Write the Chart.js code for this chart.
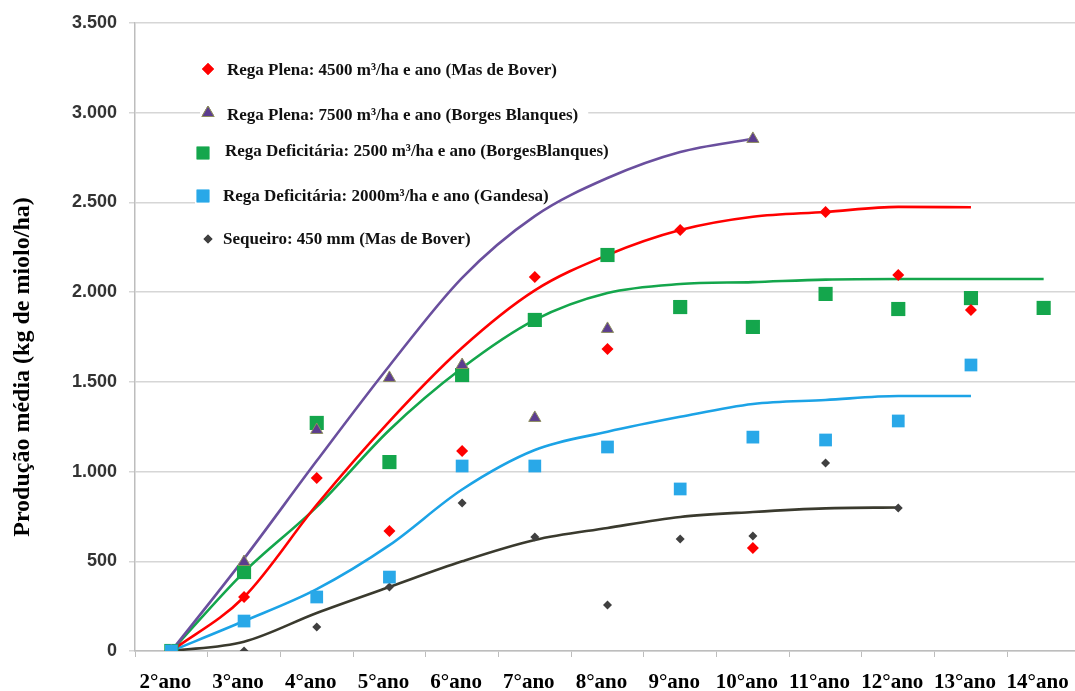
<!DOCTYPE html>
<html>
<head>
<meta charset="utf-8">
<script src="https://cdn.jsdelivr.net/npm/chart.js@4.4.1/dist/chart.umd.min.js"></script>
<style>
  html, body { margin: 0; padding: 0; background: #fff; overflow: hidden; }
  #wrap { width: 1090px; height: 691px; }
</style>
</head>
<body>
<div id="wrap"><canvas id="chart" width="1090" height="691"></canvas></div>
<script>
// ===================================
// Data
// ===================================
const categories = ["2°ano", "3°ano", "4°ano", "5°ano", "6°ano", "7°ano", "8°ano",
  "9°ano", "10°ano", "11°ano", "12°ano", "13°ano", "14°ano"];

const yTicks = [0, 500, 1000, 1500, 2000, 2500, 3000, 3500];

// observed values (kg de miolo/ha)
const plena4500Obs = [0, 301, 964, 669, 1115, 2084, 1683, 2346, 574, 2447, 2096, 1900, null];
const plena7500Obs = [0, 496, 1232, 1522, 1594, 1299, 1795, null, 2854, null, null, null, null];
const defic2500Obs = [0, 440, 1271, 1053, 1538, 1845, 2207, 1917, 1806, 1990, 1906, 1967, 1912];
const defic2000Obs = [0, 167, 301, 412, 1031, 1031, 1137, 903, 1192, 1176, 1282, 1594, null];
const sequeiroObs = [0, 0, 134, 357, 825, 635, 256, 624, 641, 1048, 797, null, null];

// trend curves
const plena4500Fit = [0, 301, 815, 1280, 1690, 2010, 2207, 2346, 2420, 2447, 2475, 2473, null];
const plena7500Fit = [0, 515, 1060, 1590, 2080, 2424, 2636, 2781, 2855, null, null, null, null];
const defic2500Fit = [0, 440, 803, 1232, 1577, 1845, 1995, 2045, 2056, 2070, 2073, 2073, 2073];
const defic2000Fit = [0, 167, 345, 590, 900, 1120, 1222, 1305, 1377, 1399, 1421, 1421, null];
const sequeiroFit = [0, 52, 212, 357, 500, 619, 686, 747, 775, 795, 800, null, null];

const legendLabels = [
  "Rega Plena: 4500 m³/ha e ano (Mas de Bover)",
  "Rega Plena: 7500 m³/ha e ano (Borges Blanques)",
  "Rega Deficitária: 2500 m³/ha e ano (BorgesBlanques)",
  "Rega Deficitária: 2000m³/ha e ano (Gandesa)",
  "Sequeiro: 450 mm (Mas de Bover)",
];

// ===================================
// Styles
// ===================================
const RED = "#ff0000";
const PURPLE = "#6a4f9e";
const GREEN = "#14a64c";
const BLUE = "#1ca3e6";
const DARK = "#3a3a2e";

const markers = [
  { style: "rectRot", radius: 6, fill: RED, border: RED, bw: 0 },
  { style: "triangle", radius: 7, fill: "#5c3d8f", border: "#8e8e5e", bw: 1 },
  { style: "rect", radius: 10, fill: GREEN, border: GREEN, bw: 0 },
  { style: "rect", radius: 9, fill: "#29a8e8", border: "#29a8e8", bw: 0 },
  { style: "rectRot", radius: 4.5, fill: "#404040", border: "#404040", bw: 0 },
];

function pointSet(data, m) {
  return {
    data: data,
    showLine: false,
    pointStyle: m.style,
    pointRadius: m.radius,
    pointHoverRadius: m.radius,
    pointBackgroundColor: m.fill,
    pointBorderColor: m.border,
    pointBorderWidth: m.bw,
    order: 0,
  };
}

function lineSet(data, color) {
  return {
    data: data,
    borderColor: color,
    borderWidth: 2.6,
    pointRadius: 0,
    cubicInterpolationMode: "monotone",
    fill: false,
    order: 1,
  };
}

// ===================================
// Plugins: white background, legend, y title
// ===================================
const legendRows = [
  { mx: 208, my: 69, tx: 227, ty: 71 },
  { mx: 208, my: 113, tx: 227, ty: 116 },
  { mx: 203, my: 153, tx: 225, ty: 152 },
  { mx: 203, my: 196, tx: 223, ty: 197 },
  { mx: 208, my: 239, tx: 223, ty: 240 },
];

const legendFont = "bold 17px 'Liberation Serif', 'Times New Roman', serif";

const customDraw = {
  id: "customDraw",
  beforeDraw(chart) {
    const ctx = chart.ctx;
    ctx.save();
    ctx.fillStyle = "#fff";
    ctx.fillRect(0, 0, chart.width, chart.height);
    ctx.restore();
  },
  beforeDatasetsDraw(chart) {
    // white boxes behind legend entries
    const ctx = chart.ctx;
    ctx.save();
    ctx.font = legendFont;
    ctx.fillStyle = "#fff";
    legendRows.forEach((r, i) => {
      const w = ctx.measureText(legendLabels[i]).width;
      ctx.fillRect(r.mx - 8, r.ty - 14, r.tx + w + 10 - (r.mx - 8), 28);
    });
    ctx.restore();
  },
  afterDatasetsDraw(chart) {
    const ctx = chart.ctx;
    ctx.save();
    legendRows.forEach((r, i) => {
      const m = markers[i];
      ctx.fillStyle = m.fill;
      ctx.strokeStyle = m.border;
      ctx.lineWidth = m.bw;
      Chart.helpers.drawPoint(ctx, { pointStyle: m.style, radius: m.radius - (i === 2 ? 1 : 0), borderWidth: m.bw }, r.mx, r.my);
      ctx.fill();
      if (m.bw) ctx.stroke();
      ctx.fillStyle = "#111";
      ctx.font = legendFont;
      ctx.textBaseline = "middle";
      ctx.textAlign = "left";
      ctx.fillText(legendLabels[i], r.tx, r.ty);
    });

    // y axis title
    ctx.translate(23, 367);
    ctx.rotate(-Math.PI / 2);
    ctx.font = "bold 24px 'Liberation Serif', 'Times New Roman', serif";
    ctx.fillStyle = "#000";
    ctx.textAlign = "center";
    ctx.textBaseline = "middle";
    ctx.fillText("Produção média (kg de miolo/ha)", 0, 0);
    ctx.restore();
  },
};

// ===================================
// Chart
// ===================================
const ctx = document.getElementById("chart").getContext("2d");
new Chart(ctx, {
  type: "line",
  data: {
    labels: categories,
    datasets: [
      pointSet(defic2000Obs, markers[3]),
      pointSet(plena4500Obs, markers[0]),
      pointSet(plena7500Obs, markers[1]),
      pointSet(defic2500Obs, markers[2]),
      pointSet(sequeiroObs, markers[4]),
      lineSet(plena7500Fit, PURPLE),
      lineSet(plena4500Fit, RED),
      lineSet(defic2500Fit, GREEN),
      lineSet(defic2000Fit, BLUE),
      lineSet(sequeiroFit, DARK),
    ],
  },
  options: {
    responsive: false,
    animation: false,
    layout: { padding: { top: 23, right: 6, left: 0, bottom: 0 } },
    plugins: {
      legend: { display: false },
      tooltip: { enabled: false },
    },
    scales: {
      x: {
        offset: true,
        grid: {
          offset: true,
          drawOnChartArea: false,
          color: "#bdbdbd",
          tickLength: 6,
        },
        border: { color: "#bdbdbd", width: 1.5 },
        ticks: {
          color: "#000",
          padding: 13,
          labelOffset: -6,
          maxRotation: 0,
          autoSkip: false,
          font: { family: "'Liberation Serif', 'Times New Roman', serif", size: 21, weight: "bold" },
        },
        afterFit(scale) {
          scale.height = 40;
        },
      },
      y: {
        min: 0,
        max: 3500,
        afterBuildTicks(scale) {
          scale.ticks = yTicks.map((v) => ({ value: v }));
        },
        grid: {
          color: "#d6d6d6",
          lineWidth: 1.5,
          tickLength: 6,
        },
        border: { color: "#bdbdbd", width: 1.5 },
        ticks: {
          color: "#333",
          padding: 12,
          font: { family: "'Liberation Sans', Arial, sans-serif", size: 18, weight: "bold" },
          callback: function (value) {
            return value.toString().replace(/\B(?=(\d{3})+(?!\d))/g, ".");
          },
        },
        afterFit(scale) {
          scale.width = 135;
        },
      },
    },
  },
  plugins: [customDraw],
});
</script>
</body>
</html>
